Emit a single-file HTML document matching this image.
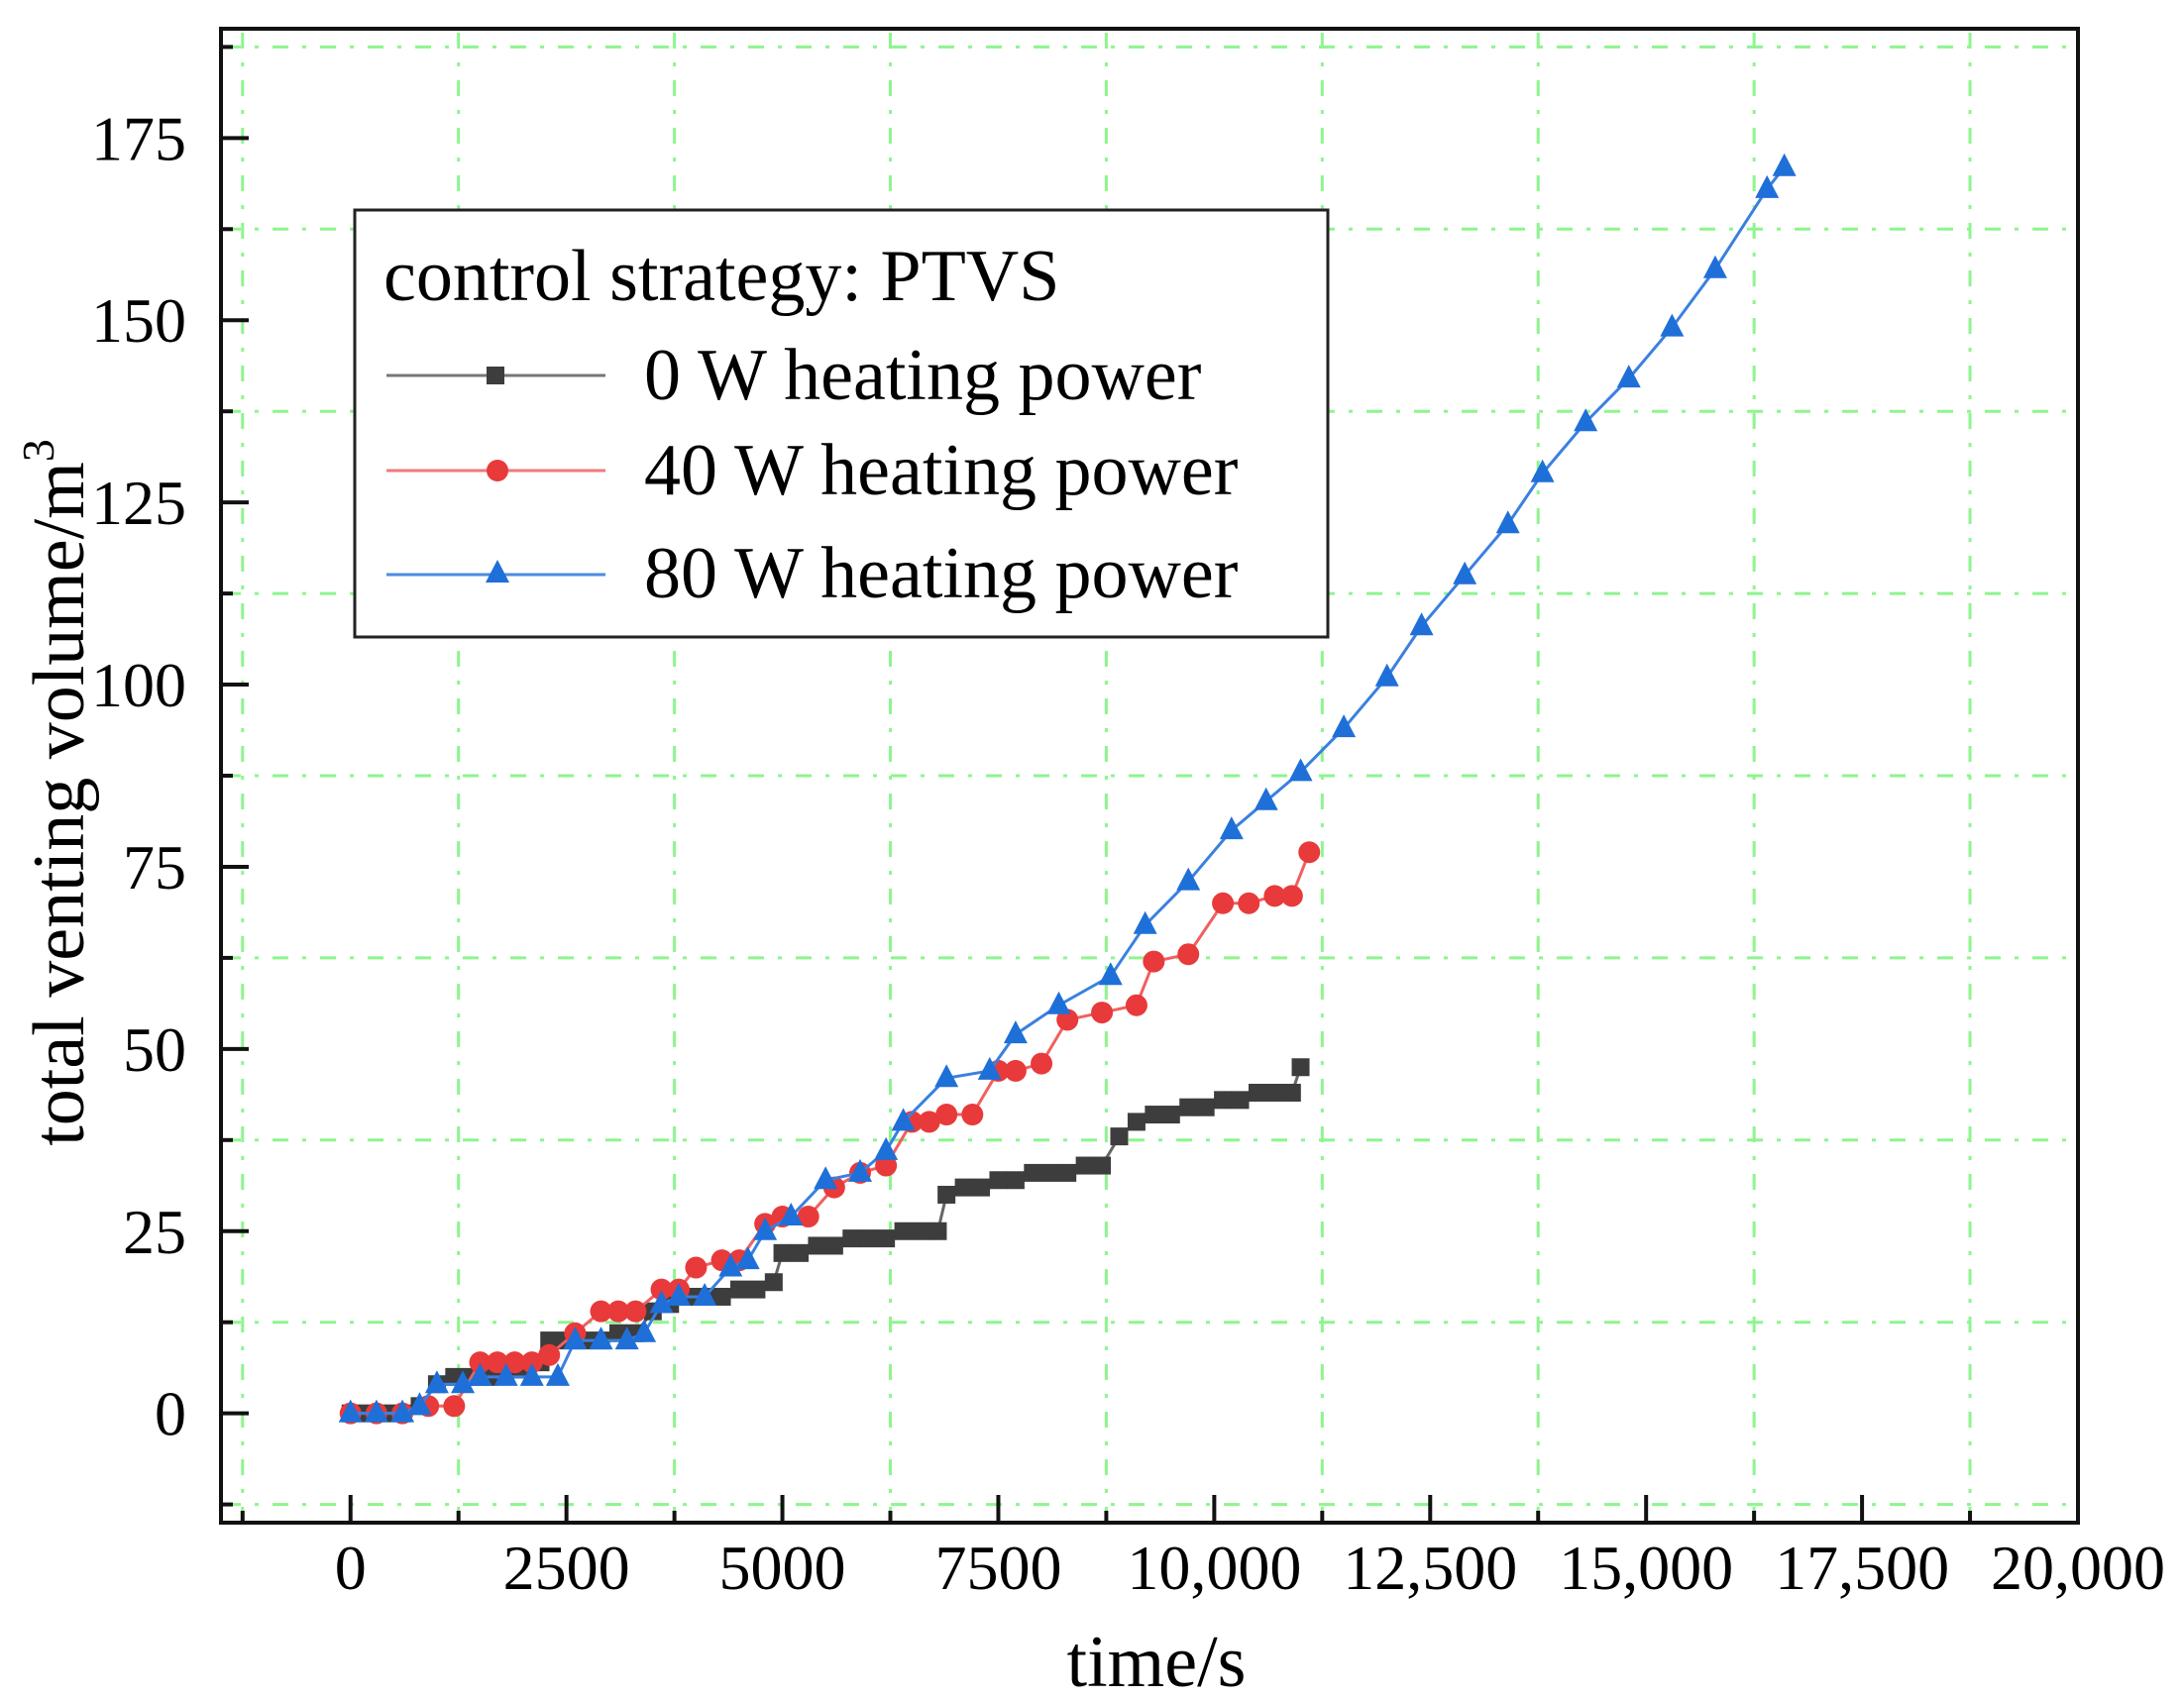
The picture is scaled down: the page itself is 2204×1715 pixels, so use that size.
<!DOCTYPE html>
<html><head><meta charset="utf-8"><style>
html,body{margin:0;padding:0;background:#fff;}
svg{display:block;font-family:"Liberation Serif",serif;}
</style></head><body>
<svg id="chart" width="2204" height="1715" viewBox="0 0 2204 1715" xmlns="http://www.w3.org/2000/svg">
<rect x="0" y="0" width="2204" height="1715" fill="#fff"/>
<g id="grid"></g>
<g id="series"></g>
<g id="axes"></g>
<text x="1167" y="1702" font-size="74" text-anchor="middle">time/s</text>
<text transform="translate(84,800) rotate(-90)" font-size="74" text-anchor="middle">total venting volume/m<tspan font-size="46" dy="-30">3</tspan></text>
<g>
<rect x="358" y="212" width="982" height="431" fill="#fff" stroke="#222" stroke-width="3"/>
<text x="387" y="303" font-size="74">control strategy: PTVS</text>
<g>
<line x1="390" y1="379" x2="611" y2="379" stroke="#777" stroke-width="3"/>
<rect x="491" y="370" width="18" height="18" fill="#3d3d3d"/>
<text x="650" y="403" font-size="74">0 W heating power</text></g>
<g>
<line x1="390" y1="475" x2="611" y2="475" stroke="#f07a7a" stroke-width="3"/>
<circle cx="502" cy="475" r="11" fill="#e83a3a"/>
<text x="650" y="499" font-size="74">40 W heating power</text></g>
<g>
<line x1="390" y1="580" x2="611" y2="580" stroke="#4a8be0" stroke-width="3"/>
<polygon points="502,565 490,588 514,588" fill="#1f6fd8"/>
<text x="650" y="603" font-size="74">80 W heating power</text></g>
</g>
</svg>
<script>
const xTicks = [0,2500,5000,7500,10000,12500,15000,17500,20000];
const xTickLabels = ["0","2500","5000","7500","10,000","12,500","15,000","17,500","20,000"];
const yTicks = [0,25,50,75,100,125,150,175];
const yTickLabels = ["0","25","50","75","100","125","150","175"];
const t0 = [0,200,400,600,800,1000,1200,1400,1600,1800,2000,2200,2300,2500,2700,2900,3100,3300,3500,3700,3900,4100,4300,4500,4700,4900,5000,5200,5400,5600,5800,6000,6200,6400,6600,6800,6900,7100,7300,7500,7700,7900,8100,8300,8500,8700,8900,9100,9300,9500,9700,9900,10100,10300,10500,10700,10900,11000];
const v0 = [0,0,0,0,1,4,5,5,5,6,6,7,10,10,10,10,11,11,14,15,16,16,16,17,17,18,22,22,23,23,24,24,24,25,25,25,30,31,31,32,32,33,33,33,34,34,38,40,41,41,42,42,43,43,44,44,44,47.5];
const t40 = [0,300,600,900,1200,1500,1700,1900,2100,2300,2600,2900,3100,3300,3600,3800,4000,4300,4500,4800,5000,5300,5600,5900,6200,6500,6700,6900,7200,7500,7700,8000,8300,8700,9100,9300,9700,10100,10400,10700,10900,11100];
const v40 = [0,0,0,1,1,7,7,7,7,8,11,14,14,14,17,17,20,21,21,26,27,27,31,33,34,40,40,41,41,47,47,48,54,55,56,62,63,70,70,71,71,77];
const t80 = [0,300,600,800,1000,1300,1500,1800,2100,2400,2600,2900,3200,3400,3600,3800,4100,4400,4600,4800,5100,5500,5900,6200,6400,6900,7400,7700,8200,8800,9200,9700,10200,10600,11000,11500,12000,12400,12900,13400,13800,14300,14800,15300,15800,16400,16600];
const v80 = [0,0,0,1,4,4,5,5,5,5,10,10,10,11,15,16,16,20,21,25,27,32,33,36,40,46,47,52,56,60,67,73,80,84,88,94,101,108,115,122,129,136,142,149,157,168,171];

const NS="http://www.w3.org/2000/svg";
const L=223,R=2097,T=29,B=1537;
const xMin=-1500,xMax=20000,yMin=-15,yMax=190;
function X(v){return L+(v-xMin)/(xMax-xMin)*(R-L);}
function Y(v){return B-(v-yMin)/(yMax-yMin)*(B-T);}
function mk(tag,attrs,parent){const e=document.createElementNS(NS,tag);for(const k in attrs)e.setAttribute(k,attrs[k]);parent.appendChild(e);return e;}
const grid=document.getElementById('grid'),axes=document.getElementById('axes'),ser=document.getElementById('series');

for(let v=-1250; v<=20000; v+=2500){
  const l=mk('line',{x1:X(v),x2:X(v),y1:T+4,y2:B-4,stroke:'#8ef58e','stroke-width':3,'stroke-dasharray':'16 14 4 14'},grid);
  
  
}
for(let v=-12.5; v<=190; v+=25){
  const l=mk('line',{x1:L+4,x2:R-4,y1:Y(v),y2:Y(v),stroke:'#8ef58e','stroke-width':3,'stroke-dasharray':'16 14 4 14'},grid);
  
  
}

const frame=mk('rect',{x:L,y:T,width:R-L,height:B-T,fill:'none',stroke:'#111','stroke-width':4},axes);



xTicks.forEach((v,i)=>{
  const t=mk('line',{x1:X(v),x2:X(v),y1:B,y2:B-28,stroke:'#111','stroke-width':4},axes);
  
  
  const m=mk('line',{x1:X(v-1250),x2:X(v-1250),y1:B,y2:B-12,stroke:'#111','stroke-width':4},axes);
  
  
  const tx=mk('text',{x:X(v),y:1604,'font-size':64,'text-anchor':'middle'},axes);
  tx.textContent=xTickLabels[i];
  
  
});
yTicks.forEach((v,i)=>{
  const t=mk('line',{x1:L,x2:L+28,y1:Y(v),y2:Y(v),stroke:'#111','stroke-width':4},axes);
  
  
  const tx=mk('text',{x:188,y:Y(v)+22,'font-size':64,'text-anchor':'end'},axes);
  tx.textContent=yTickLabels[i];
  
  
});
[-12.5,12.5,37.5,62.5,87.5,112.5,137.5,162.5,187.5].forEach(v=>{
  const m=mk('line',{x1:L,x2:L+12,y1:Y(v),y2:Y(v),stroke:'#111','stroke-width':4},axes);
  
  
});

function series(ts,vs,lineColor,markColor,shape,name){
  const g=mk('g',{},ser);
  
  
  const pts=ts.map((t,i)=>X(t)+','+Y(vs[i])).join(' ');
  mk('polyline',{points:pts,fill:'none',stroke:lineColor,'stroke-width':3},g);
  ts.forEach((t,i)=>{
    const cx=X(t),cy=Y(vs[i]);let m;
    if(shape==='sq') m=mk('rect',{x:cx-9,y:cy-9,width:18,height:18,fill:markColor},g);
    else if(shape==='c') m=mk('circle',{cx:cx,cy:cy,r:11,fill:markColor},g);
    else m=mk('polygon',{points:`${cx},${cy-14} ${cx-12},${cy+9} ${cx+12},${cy+9}`,fill:markColor},g);
    
    
  });
}
series(t0,v0,'#666','#3d3d3d','sq','series-0w');
series(t40,v40,'#f06060','#e83a3a','c','series-40w');
series(t80,v80,'#3a80e0','#1f6fd8','t','series-80w');
</script>
</body></html>
